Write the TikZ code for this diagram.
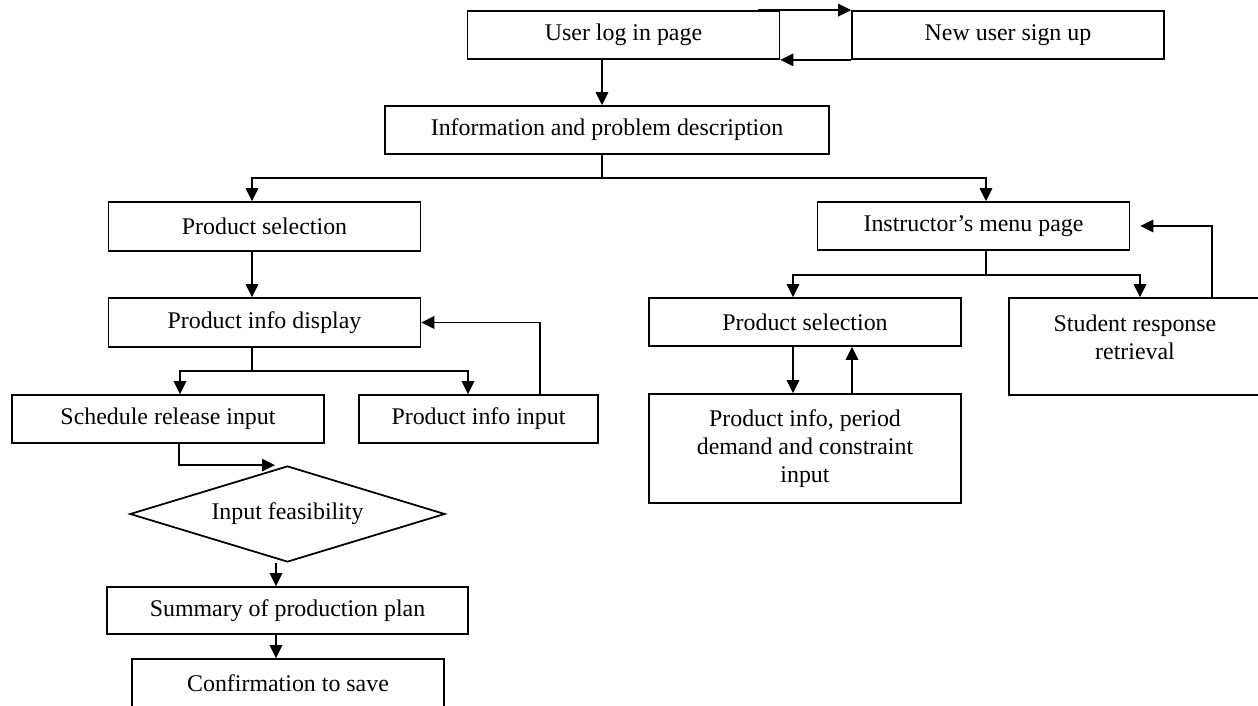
\documentclass[tikz,border=0pt]{standalone}
\usepackage{fontspec}
\setmainfont{Liberation Serif}
\usetikzlibrary{arrows.meta,shapes.geometric}

\begin{document}
\begin{tikzpicture}[
    box/.style={draw, line width=1pt, minimum width=6.24cm, minimum height=0.96cm,
        inner sep=0pt, align=center, font=\fontsize{13.6}{15.9}\selectfont},
    txt/.style={align=center, font=\fontsize{13.6}{15.9}\selectfont},
    line/.style={line width=1pt},
    arr/.style={line width=1pt, -{Triangle[length=0.26cm,width=0.25cm]}}
]
    \useasboundingbox (0,0) rectangle (25.16,-14.12);

    % Entrada
    \node[box] (login) at (12.47,-0.70) {User log in page};
    \node[box] (signup) at (20.16,-0.70) {New user sign up};
    \node[box, minimum width=8.88cm] (info) at (12.14,-2.60) {Information and problem description};

    % Rama del estudiante
    \node[box, minimum height=0.98cm] (psel) at (5.29,-4.53) {Product selection};
    \node[box, minimum height=0.98cm] (pdisp) at (5.29,-6.45) {Product info display};
    \node[box] (sched) at (3.36,-8.38) {Schedule release input};
    \node[box, minimum width=4.78cm] (pinput) at (9.57,-8.38) {Product info input};
    \node[draw, diamond, line width=1pt, aspect=3.3, minimum width=6.30cm, minimum height=1.92cm,
        inner sep=0pt, txt] (feas) at (5.75,-10.28) {Input feasibility};
    \node[box, minimum width=7.22cm, minimum height=0.94cm] (summary) at (5.75,-12.21) {Summary of production plan};
    \node[box] (confirm) at (5.76,-13.66) {Confirmation to save};

    % Rama del instructor
    \node[box] (instr) at (19.47,-4.52) {Instructor’s menu page};
    \node[box] (psel2) at (16.10,-6.44) {Product selection};
    \node[box, minimum width=5.04cm, minimum height=1.94cm,
        label={[txt, yshift=0.18cm]center:Student response\\retrieval}] (student) at (22.70,-6.93) {};
    \node[box, minimum height=2.18cm] (period) at (16.10,-8.97) {Product info, period\\demand and constraint\\input};

    % Flechas de entrada
    \draw[arr] ([xshift=-0.44cm]login.north east) -- (signup.north west);
    \draw[arr] (signup.south west) -- (login.south east);
    \draw[arr] ([xshift=-0.43cm]login.south) -- ([xshift=-0.43cm]login.south |- info.north);

    \draw[line] ([xshift=-0.1cm]info.south) -- ++(0,-0.46) coordinate (split1);
    \draw[arr] (split1) -| ([xshift=-0.25cm]psel.north);
    \draw[arr] (split1) -| ([xshift=0.25cm]instr.north);

    % Flechas del estudiante
    \draw[arr] ([xshift=-0.25cm]psel.south) -- ([xshift=-0.25cm]pdisp.north);
    \draw[line] ([xshift=-0.25cm]pdisp.south) -- ++(0,-0.46) coordinate (split2);
    \draw[arr] (split2) -| ([xshift=0.24cm]sched.north);
    \draw[arr] (split2) -| ([xshift=-0.21cm]pinput.north);
    \draw[arr] ([xshift=1.23cm]pinput.north) |- (pdisp.east);
    \draw[arr] ([xshift=0.22cm]sched.south) |- ([xshift=-0.25cm]feas.north);
    \draw[arr] ([xshift=-0.23cm]feas.south) -- ([xshift=-0.23cm]feas.south |- summary.north);
    \draw[arr] ([xshift=-0.23cm]summary.south) -- ([xshift=-0.23cm]summary.south |- confirm.north);

    % Flechas del instructor
    \draw[line] ([xshift=0.25cm]instr.south) -- ++(0,-0.48) coordinate (split3);
    \draw[arr] (split3) -| ([xshift=-0.24cm]psel2.north);
    \draw[arr] (split3) -| ([xshift=0.1cm]student.north);
    \draw[arr] ([xshift=1.54cm]student.north) |- ([xshift=0.2cm]instr.east);
    \draw[arr] ([xshift=-0.24cm]psel2.south) -- ([xshift=-0.24cm]period.north);
    \draw[arr] ([xshift=0.94cm]period.north) -- ([xshift=0.94cm]psel2.south);
\end{tikzpicture}
\end{document}
